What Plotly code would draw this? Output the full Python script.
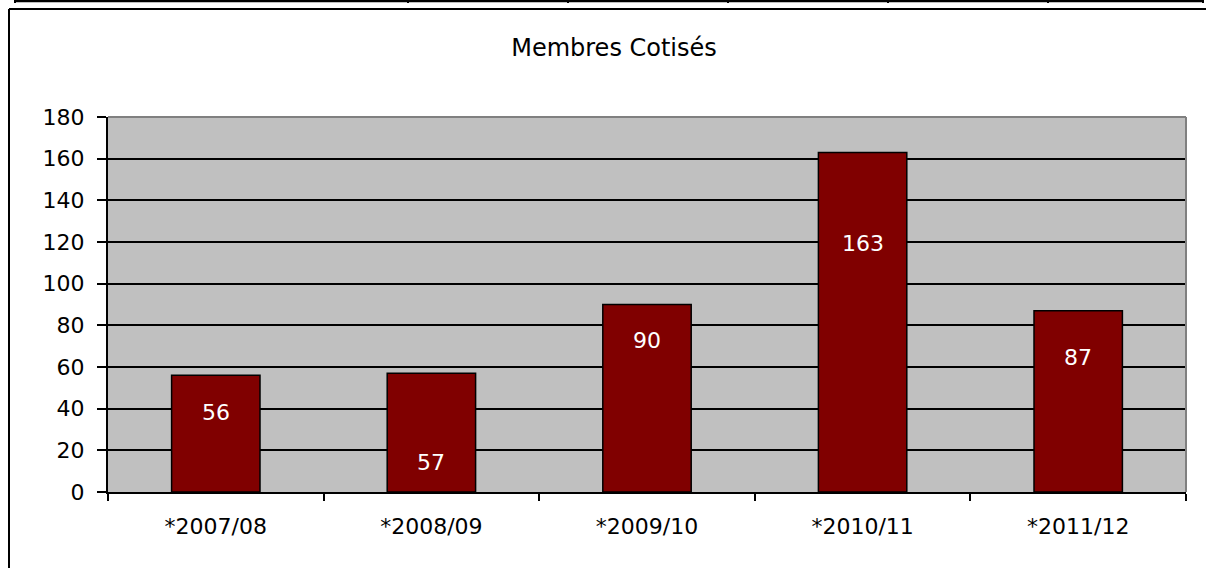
import plotly.graph_objects as go

categories = ["*2007/08", "*2008/09", "*2009/10", "*2010/11", "*2011/12"]
members = [56, 57, 90, 163, 87]
# vertical placement of the value labels (data units)
label_y = [38.4, 14.4, 72.6, 119.4, 64.6]
y_ticks = [0, 20, 40, 60, 80, 100, 120, 140, 160, 180]

FONT = "DejaVu Sans"

fig = go.Figure()
fig.add_trace(go.Bar(
    x=categories, y=members,
    marker=dict(color="#800000", line=dict(color="#000000", width=1.5)),
    width=0.41,
    hoverinfo="x+y",
))

for c, v, ly in zip(categories, members, label_y):
    fig.add_annotation(x=c, y=ly, text=str(v), showarrow=False,
                       font=dict(family=FONT, size=22, color="#FFFFFF"),
                       xref="x", yref="y")

W, H = 1206, 568
L, R, T, B = 108, 1186, 117, 492

def px(x):
    return (x - L) / (R - L)

def py(y):
    return (B - y) / (B - T)

shapes = []
# plot-area top / right border (gray)
shapes.append(dict(type="line", xref="paper", yref="paper", x0=0, x1=1, y0=1, y1=1,
                   line=dict(color="#808080", width=2)))
shapes.append(dict(type="line", xref="paper", yref="paper", x0=1, x1=1, y0=0, y1=1,
                   line=dict(color="#808080", width=2)))
# chart-area border (left and top)
shapes.append(dict(type="line", xref="paper", yref="paper", x0=px(9), x1=px(1206), y0=py(9), y1=py(9),
                   line=dict(color="#000000", width=2)))
shapes.append(dict(type="line", xref="paper", yref="paper", x0=px(9), x1=px(9), y0=py(9), y1=py(575),
                   line=dict(color="#000000", width=2)))
# table line at very top
shapes.append(dict(type="line", xref="paper", yref="paper", x0=px(15), x1=px(1203), y0=py(1), y1=py(1),
                   line=dict(color="#000000", width=2.5)))
for vx in [15, 408, 568, 728, 888, 1048, 1203]:
    shapes.append(dict(type="line", xref="paper", yref="paper", x0=px(vx), x1=px(vx), y0=py(-2), y1=py(3),
                       line=dict(color="#000000", width=2)))

fig.update_layout(
    width=W, height=H,
    margin=dict(l=L, r=W - R, t=T, b=H - B),
    paper_bgcolor="#FFFFFF",
    plot_bgcolor="#C0C0C0",
    showlegend=False,
    shapes=shapes,
    title=dict(text="Membres Cotisés", x=px(614), xref="paper", xanchor="center",
               y=1 - 48 / H, yref="container", yanchor="middle",
               font=dict(family=FONT, size=24, color="#000000")),
    font=dict(family=FONT, size=22, color="#000000"),
    bargap=0.59,
)

fig.update_yaxes(
    range=[0, 180], tickvals=y_ticks, ticktext=[str(t) for t in y_ticks],
    showgrid=True, gridcolor="#000000", gridwidth=1.5,
    showline=True, linecolor="#000000", linewidth=2,
    ticks="outside", ticklen=9, tickwidth=1.5, tickcolor="#000000",
    ticklabelstandoff=8, zeroline=False,
    tickfont=dict(family=FONT, size=22, color="#000000"),
)
fig.update_xaxes(
    showgrid=False,
    showline=True, linecolor="#000000", linewidth=2,
    ticks="outside", tickson="boundaries", ticklen=7, tickwidth=1.5, tickcolor="#000000",
    ticklabelstandoff=14,
    tickfont=dict(family=FONT, size=22, color="#000000"),
)

fig.write_html("out.html", config={"displayModeBar": False})

# remove the browser's default page margin so the figure sits at the window origin
with open("out.html", "r", encoding="utf-8") as f:
    html = f.read()
html = html.replace("<body>", '<body style="margin:0;padding:0;overflow:hidden">', 1)
with open("out.html", "w", encoding="utf-8") as f:
    f.write(html)
